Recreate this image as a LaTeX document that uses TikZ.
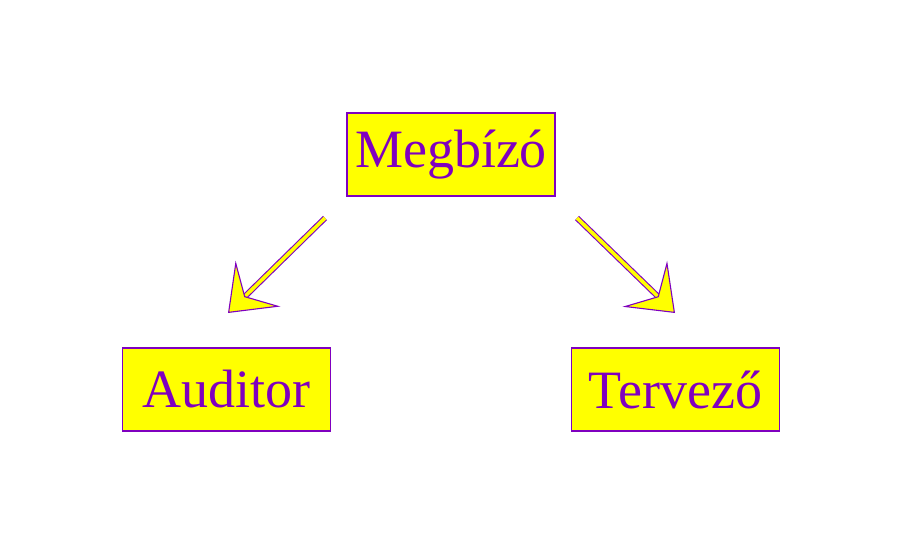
\documentclass[tikz,border=0pt]{standalone}
\usepackage{fontspec}
\setmainfont{Liberation Serif}
\usetikzlibrary{arrows.meta}
\definecolor{boxpurple}{HTML}{7F00BF}
\definecolor{boxyellow}{HTML}{FFFF00}

\tikzset{
  rolebox/.style={draw=boxpurple,fill=boxyellow,line width=1.2pt,
    minimum width=208pt,minimum height=83pt,inner sep=0pt,
    text=boxpurple,font=\fontsize{54}{60}\selectfont},
  blockarrow/.style={draw=boxpurple,double=boxyellow,double distance=3.6pt,
    line width=1.1pt,
    -{Stealth[length=42pt,width=64pt,inset=18pt,fill=boxyellow]}}
}

\begin{document}
\begin{tikzpicture}[x=1pt,y=-1pt]
\useasboundingbox (0,0) rectangle (902,549);
\node[rolebox] (megbizo) at (451,154.5) {Megbízó};
\node[rolebox] (auditor) at (226.5,389.5) {Auditor};
\node[rolebox] (tervezo) at (675.5,389.5) {Tervező};
\coordinate (la) at (325,218);
\coordinate (lb) at (228,313);
\coordinate (ra) at (577,218);
\coordinate (rb) at (675,313);
\draw[blockarrow] (la) -- (lb);
\draw[blockarrow] (ra) -- (rb);
\end{tikzpicture}
\end{document}
